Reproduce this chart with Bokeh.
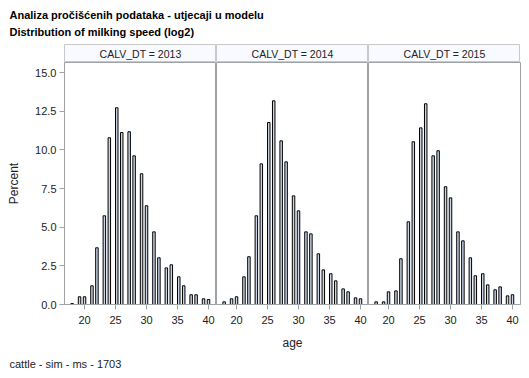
from bokeh.plotting import figure
from bokeh.models import Range1d, Label, FixedTicker, Spacer, PrintfTickFormatter
from bokeh.layouts import column, row
from bokeh.embed import file_html
from bokeh.resources import INLINE

# ---------------- data ----------------
years = ["2013", "2014", "2015"]
bin_mid = [18.0, 19.2, 20.0, 21.2, 22.0, 23.2, 24.0, 25.2, 26.0, 27.2, 28.0, 29.2,
           30.0, 31.2, 32.0, 33.2, 34.0, 35.2, 36.0, 37.2, 38.0, 39.2, 40.0]
pct_2013 = [0.06, 0.50, 0.50, 1.21, 3.67, 5.74, 10.79, 12.73, 11.13, 11.18, 9.62, 8.46,
            6.39, 4.70, 3.02, 2.37, 2.57, 1.79, 1.21, 0.63, 0.63, 0.37, 0.32]
pct_2014 = [0.17, 0.37, 0.50, 1.79, 3.09, 5.74, 9.10, 11.78, 13.18, 10.59, 9.23, 7.03,
            6.06, 4.70, 4.57, 3.28, 2.24, 1.99, 1.53, 1.01, 0.82, 0.43, 0.37]
pct_2015 = [0.17, 0.17, 0.82, 0.88, 2.96, 5.35, 10.53, 11.43, 12.99, 9.62, 9.95, 7.62,
            6.90, 4.70, 4.12, 3.02, 1.86, 1.99, 1.27, 0.95, 1.14, 0.56, 0.63]
bin_width = 0.4
x_ticks = [20, 25, 30, 35, 40]
y_ticks = [0, 2.5, 5, 7.5, 10, 12.5, 15]
header_prefix = "CALV_DT = "
title1 = "Analiza pročišćenih podataka - utjecaji u modelu"
title2 = "Distribution of milking speed (log2)"
footnote = "cattle - sim - ms - 1703"
x_label = "age"
y_label = "Percent"

# ---------------- style ----------------
FONT = "Liberation Sans"
BAR_FILL = "#CAD5E6"
FRAME_COL = "#A0A3A6"
HEAD_FILL = "#F8FAFF"
HEAD_LINE = "#C8C8C8"
TXT = "#222222"
TOTAL_W = 529
LEFT = 64
PANEL_W = 152
RIGHT = 9


def blank(w, h, **kw):
    p = figure(width=w, height=h, x_range=Range1d(0, 1), y_range=Range1d(0, 1),
               x_axis_location=None, y_axis_location=None, output_backend="svg",
               toolbar_location=None, min_border=0, **kw)
    p.xgrid.grid_line_color = None
    p.ygrid.grid_line_color = None
    return p


# titles
top = blank(TOTAL_W, 44, outline_line_color=None)
top.add_layout(Label(x=9, y=29.5, x_units="screen", y_units="screen", text=title1,
                     text_font=FONT, text_font_style="bold", text_font_size="11px",
                     text_baseline="alphabetic", text_color="black"))
top.add_layout(Label(x=9, y=13, x_units="screen", y_units="screen", text=title2,
                     text_font=FONT, text_font_style="bold", text_font_size="11px",
                     text_baseline="alphabetic", text_color="black"))

# headers
heads = [Spacer(width=LEFT, height=18)]
for yr in years:
    h = blank(PANEL_W, 18, outline_line_color=HEAD_LINE,
              background_fill_color=HEAD_FILL, border_fill_color=HEAD_FILL)
    h.add_layout(Label(x=0.5, y=0.5, text=header_prefix + yr, text_font=FONT,
                       text_font_size="10.5px", text_align="center",
                       text_baseline="middle", text_color=TXT))
    heads.append(h)

# panels
series = [pct_2013, pct_2014, pct_2015]
panels = []
for i, vals in enumerate(series):
    first = i == 0
    last = i == 2
    p = figure(width=PANEL_W + (LEFT if first else 0) + (RIGHT if last else 0), height=290,
               x_range=Range1d(16.77, 41.29), y_range=Range1d(0, 15.66),
               y_axis_location="left" if first else None,
               output_backend="svg", toolbar_location=None,
               min_border_left=LEFT if first else 0, min_border_right=RIGHT if last else 0,
               min_border_top=0, min_border_bottom=48,
               outline_line_color=FRAME_COL)
    p.xgrid.grid_line_color = None
    p.ygrid.grid_line_color = None
    p.vbar(x=bin_mid, top=vals, width=bin_width, bottom=0,
           fill_color=BAR_FILL, line_color="black", line_width=1)
    axes = [p.xaxis[0]] + ([p.yaxis[0]] if first else [])
    for ax in axes:
        ax.axis_line_color = FRAME_COL
        ax.major_tick_line_color = FRAME_COL
        ax.minor_tick_line_color = None
        ax.major_tick_out = 5
        ax.major_tick_in = 0
        ax.major_label_text_font = FONT
        ax.major_label_text_font_size = "11px"
        ax.major_label_text_color = TXT
        ax.axis_label_text_font = FONT
        ax.axis_label_text_font_size = "12px"
        ax.axis_label_text_font_style = "normal"
        ax.axis_label_text_color = TXT
    p.xaxis.ticker = FixedTicker(ticks=x_ticks)
    p.xaxis.major_label_standoff = 6
    if first:
        p.yaxis.ticker = FixedTicker(ticks=y_ticks)
        p.yaxis.formatter = PrintfTickFormatter(format="%.1f")
        p.yaxis.major_label_standoff = 3
        p.yaxis.axis_label = y_label
        p.yaxis.axis_label_standoff = 11
    if i == 1:
        p.xaxis.axis_label = x_label
        p.xaxis.axis_label_standoff = 9
    panels.append(p)

# footnote
foot = blank(TOTAL_W, 26, outline_line_color=None)
foot.add_layout(Label(x=9, y=15, x_units="screen", y_units="screen", text=footnote,
                      text_font=FONT, text_font_size="11px",
                      text_baseline="alphabetic", text_color=TXT))

layout = column(top, row(*heads), row(*panels), foot)
open("out.html", "w").write(file_html(layout, INLINE))
